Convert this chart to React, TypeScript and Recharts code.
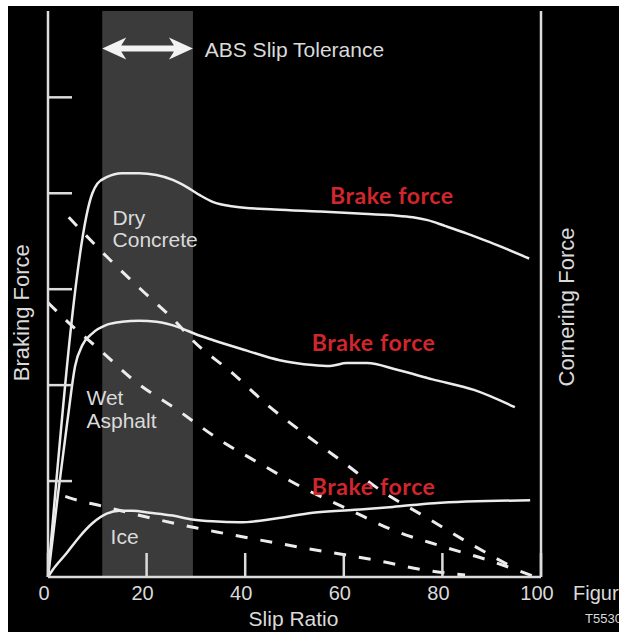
import React from "react";
import {
  ComposedChart,
  Line,
  XAxis,
  YAxis,
  ReferenceArea,
  ReferenceLine,
  ReferenceDot,
} from "recharts";

// slip ratio axis
const xTicks = [0, 20, 40, 60, 80, 100];
const yTicks = [1, 2, 3, 4, 5];
const Y_MAX = 5.9;

// ABS slip tolerance band (slip %)
const absBand = [11, 29.4];

// braking force curves (solid), [slip, force]
const dryBrake: [number, number][] = [
  [0, 0], [9, 4.0], [10, 4.1], [12, 4.17], [15, 4.21], [18.5, 4.21], [22, 4.19],
  [25.3, 4.14], [28, 4.07], [30.8, 3.98], [33.4, 3.91], [38, 3.86], [46, 3.83],
  [55, 3.81], [63, 3.79], [70, 3.77], [74, 3.75], [77, 3.72], [80.5, 3.66],
  [85, 3.58], [89.6, 3.49], [97.6, 3.32],
];
const wetBrake: [number, number][] = [
  [0, 0], [2, 0.85], [4, 1.65], [5.5, 2.2], [7, 2.42], [9, 2.54], [12, 2.63],
  [15, 2.66], [18.5, 2.67], [22, 2.66], [26.7, 2.6], [30, 2.53], [33.4, 2.47],
  [40.3, 2.36], [47, 2.26], [53.7, 2.21], [57.2, 2.2], [60.6, 2.23], [64.7, 2.23],
  [70.8, 2.16], [78, 2.06], [86.4, 1.95], [94.7, 1.77],
];
const iceBrake: [number, number][] = [
  [0, 0], [0.9, 0.07], [3.8, 0.25], [6.4, 0.42], [9, 0.56], [11.9, 0.66],
  [14.5, 0.69], [17.2, 0.69], [20.6, 0.67], [25.3, 0.64], [29.3, 0.6],
  [33.4, 0.58], [38.9, 0.57], [46.2, 0.61], [53.7, 0.67], [62.2, 0.7],
  [69.9, 0.73], [78.3, 0.77], [97.8, 0.8],
];

// cornering force curves (dashed)
const dryCorner: [number, number][] = [
  [4.2, 3.75], [12.1, 3.33], [18.6, 3.01], [26.1, 2.65], [29.3, 2.47],
  [37.3, 2.13], [44.6, 1.79], [52.1, 1.49], [59.8, 1.2], [67.3, 0.91],
  [77.1, 0.61], [85.2, 0.36], [94.3, 0.1],
];
const wetCorner: [number, number][] = [
  [0, 2.86], [4, 2.66], [10.9, 2.35], [17.4, 2.05], [26.3, 1.74], [34.8, 1.43],
  [43.4, 1.17], [51.7, 0.93], [61.2, 0.7], [69.9, 0.49], [79.9, 0.32],
  [89.6, 0.17], [98.4, 0.01],
];
const iceCorner: [number, number][] = [
  [3.5, 0.84], [6, 0.8], [10.9, 0.74], [20, 0.625], [30.2, 0.51], [35.2, 0.46],
  [51.1, 0.31], [69.3, 0.146], [74, 0.094], [79.1, 0.052], [84.6, 0.02],
];

const surfaceNotes = [
  { x: 13.1, y: 3.67, text: "Dry" },
  { x: 13.1, y: 3.44, text: "Concrete" },
  { x: 7.8, y: 1.79, text: "Wet" },
  { x: 7.8, y: 1.55, text: "Asphalt" },
  { x: 12.7, y: 0.34, text: "Ice" },
  { x: 31.8, y: 5.42, text: "ABS Slip Tolerance" },
];
const brakeNotes = [
  { x: 57.2, y: 3.89 },
  { x: 53.5, y: 2.36 },
  { x: 53.5, y: 0.85 },
];

const AXIS = "#dcdcdc";
const LINE = "#ececec";
const TEXT = "#dadada";
const RED = "#d1262c";
const SANS = "'Liberation Sans', Arial, sans-serif";
const TICK_LEN = 24;

const toPts = (rows: [number, number][]) => rows.map(([x, y]) => ({ x, y }));

function XTick({ x, y, payload }: any) {
  return (
    <g>
      <line x1={x} y1={y} x2={x} y2={y - TICK_LEN} stroke={AXIS} strokeWidth={2.5} />
      <text x={x - 4} y={y + 23} textAnchor="middle" fill={TEXT} fontSize={20} fontFamily={SANS}>
        {payload.value}
      </text>
    </g>
  );
}

function LeftTick({ x, y }: any) {
  return <line x1={x} y1={y} x2={x + TICK_LEN} y2={y} stroke={AXIS} strokeWidth={2.5} />;
}

function RightTick({ x, y }: any) {
  return <line x1={x} y1={y} x2={x - TICK_LEN} y2={y} stroke={AXIS} strokeWidth={2.5} />;
}

function ArrowShape({ x1, y1, x2 }: any) {
  const h = 24;
  const pts = [
    [x1, y1], [x1 + h, y1 - 11], [x1 + h - 5, y1 - 3], [x2 - h + 5, y1 - 3],
    [x2 - h, y1 - 11], [x2, y1], [x2 - h, y1 + 11], [x2 - h + 5, y1 + 3],
    [x1 + h - 5, y1 + 3], [x1 + h, y1 + 11],
  ];
  return <polygon points={pts.map((p) => p.join(",")).join(" ")} fill="#f2f2f2" />;
}

export default function App() {
  return (
    <div style={{ position: "absolute", left: 8, top: 6, width: 611, height: 626, background: "#000" }}>
      <ComposedChart width={611} height={626} margin={{ top: 5, right: 0, bottom: 0, left: 0 }}>
        <ReferenceArea x1={absBand[0]} x2={absBand[1]} fill="#3b3b3b" fillOpacity={1} stroke="none" />
        <XAxis
          type="number"
          dataKey="x"
          domain={[0, 100]}
          ticks={xTicks}
          interval={0}
          height={55}
          axisLine={{ stroke: AXIS, strokeWidth: 2.5 }}
          tickLine={false}
          tickSize={0}
          tickMargin={0}
          tick={<XTick />}
          label={{
            content: ({ viewBox }: any) => (
              <g fontFamily={SANS} fill={TEXT}>
                <text x={viewBox.x + viewBox.width / 2 - 1} y={viewBox.y + 49} textAnchor="middle" fontSize={21}>
                  Slip Ratio
                </text>
                <text x={viewBox.x + viewBox.width + 32} y={viewBox.y + 23} fontSize={20}>
                  Figure
                </text>
                <text x={viewBox.x + viewBox.width + 44} y={viewBox.y + 46} fontSize={13}>
                  T5530
                </text>
              </g>
            ),
          }}
        />
        <YAxis
          type="number"
          domain={[0, Y_MAX]}
          ticks={yTicks}
          interval={0}
          width={40}
          axisLine={{ stroke: AXIS, strokeWidth: 2.5 }}
          tickLine={false}
          tickSize={0}
          tickMargin={0}
          tick={<LeftTick />}
          label={{
            content: ({ viewBox }: any) => {
              const cx = viewBox.x + 21;
              const cy = viewBox.y + viewBox.height * 0.533;
              return (
                <text x={cx} y={cy} transform={`rotate(-90 ${cx} ${cy})`} textAnchor="middle" fill={TEXT} fontSize={22} fontFamily={SANS}>
                  Braking Force
                </text>
              );
            },
          }}
        />
        <YAxis
          yAxisId="right"
          orientation="right"
          type="number"
          domain={[0, Y_MAX]}
          ticks={yTicks}
          interval={0}
          width={78}
          axisLine={{ stroke: AXIS, strokeWidth: 2.5 }}
          tickLine={false}
          tickSize={0}
          tickMargin={0}
          tick={<RightTick />}
          label={{
            content: ({ viewBox }: any) => {
              const cx = viewBox.x + 33;
              const cy = viewBox.y + viewBox.height * 0.523;
              return (
                <text x={cx} y={cy} transform={`rotate(-90 ${cx} ${cy})`} textAnchor="middle" fill={TEXT} fontSize={22} fontFamily={SANS}>
                  Cornering Force
                </text>
              );
            },
          }}
        />

        {[dryCorner, wetCorner, iceCorner].map((rows, i) => (
          <Line
            key={`c${i}`}
            data={toPts(rows)}
            dataKey="y"
            type="monotone"
            stroke={LINE}
            strokeWidth={3}
            strokeDasharray="12 13"
            dot={false}
            activeDot={false}
            isAnimationActive={false}
          />
        ))}
        {[dryBrake, wetBrake, iceBrake].map((rows, i) => (
          <Line
            key={`b${i}`}
            data={toPts(rows)}
            dataKey="y"
            type="monotone"
            stroke={LINE}
            strokeWidth={2.5}
            dot={false}
            activeDot={false}
            isAnimationActive={false}
          />
        ))}

        <ReferenceLine
          segment={[
            { x: absBand[0], y: 5.51 },
            { x: absBand[1], y: 5.51 },
          ]}
          shape={<ArrowShape />}
        />
        {surfaceNotes.map((n) => (
          <ReferenceDot
            key={n.text}
            x={n.x}
            y={n.y}
            r={0}
            shape={(p: any) => (
              <text x={p.cx} y={p.cy} fill={TEXT} fontSize={21} fontFamily={SANS}>
                {n.text}
              </text>
            )}
          />
        ))}
        {brakeNotes.map((n, i) => (
          <ReferenceDot
            key={`bf${i}`}
            x={n.x}
            y={n.y}
            r={0}
            shape={(p: any) => (
              <text x={p.cx} y={p.cy} fill={RED} fontSize={23} fontWeight={700} letterSpacing={0.6} fontFamily="Lato, sans-serif">
                Brake force
              </text>
            )}
          />
        ))}
      </ComposedChart>
    </div>
  );
}
